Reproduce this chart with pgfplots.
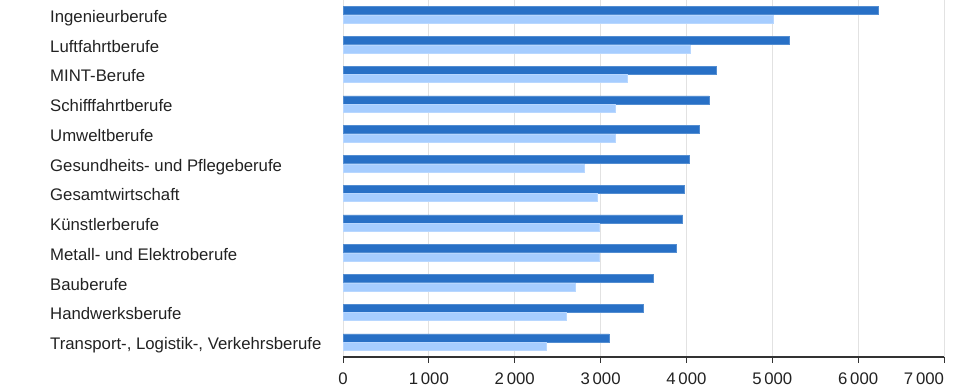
\documentclass[border=0pt]{standalone}
\usepackage{fontspec}
\setmainfont{Liberation Sans}
\usepackage{pgfplots}
\pgfplotsset{compat=1.18}
\definecolor{darkbar}{RGB}{40,112,198}
\definecolor{lightbar}{RGB}{166,205,255}
\definecolor{gridc}{RGB}{226,226,226}
\definecolor{axisc}{RGB}{51,51,51}
\definecolor{textc}{RGB}{34,34,34}
\begin{document}
\begin{tikzpicture}
\path[use as bounding box] (0,0) rectangle (970bp,388bp);
\begin{axis}[
  at={(343bp,31bp)}, anchor=south west,
  scale only axis, width=601bp, height=357bp,
  xbar, bar width=0.27,
  xmin=0, xmax=7000, ymin=-0.5, ymax=11.5,
  xtick={0,1000,...,7000},
  xticklabels={0,1\,000,2\,000,3\,000,4\,000,5\,000,6\,000,{7\,000\phantom{7\,000}}},
  ytick={0,...,11},
  yticklabels={{Transport-, Logistik-, Verkehrsberufe},Handwerksberufe,Bauberufe,{Metall- und Elektroberufe},Künstlerberufe,Gesamtwirtschaft,{Gesundheits- und Pflegeberufe},Umweltberufe,Schifffahrtberufe,MINT-Berufe,Luftfahrtberufe,Ingenieurberufe},
  axis x line*=bottom,
  axis y line*=left,
  x axis line style={draw=axisc, line width=1.2bp, -},
  y axis line style={draw=none},
  xmajorgrids, major grid style={draw=gridc, line width=0.8bp},
  ytick style={draw=none},
  xtick style={draw=axisc, line width=1bp},
  tick align=outside, major tick length=6bp,
  ticklabel style={font=\fontsize{16.75bp}{19bp}\selectfont, text=textc},
  yticklabel style={anchor=base west, inner sep=0pt, xshift=-287bp, yshift=-7.5bp},
  xticklabel style={yshift=-6bp},
  clip=false,
]
\addplot[fill=darkbar, draw=darkbar!80!white, line width=0.5bp, bar shift=0.145] coordinates {
(3100,0) (3500,1) (3619,2) (3880,3) (3956,4) (3971,5) (4028,6) (4147,7) (4265,8) (4351,9) (5192,10) (6234,11)};
\addplot[fill=lightbar, draw=lightbar!80!white, line width=0.5bp, bar shift=-0.145] coordinates {
(2368,0) (2601,1) (2706,2) (2981,3) (2981,4) (2967,5) (2806,6) (3176,7) (3176,8) (3310,9) (4042,10) (5010,11)};
\end{axis}
\end{tikzpicture}
\end{document}
